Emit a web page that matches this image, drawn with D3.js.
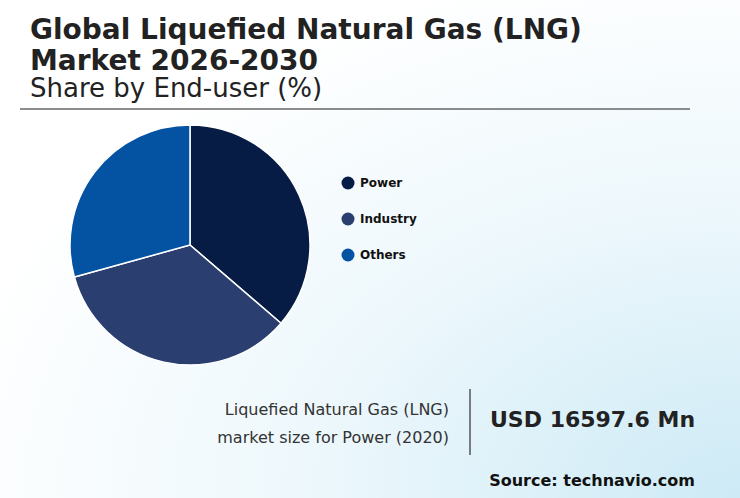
<!DOCTYPE html>
<html><head><meta charset="utf-8">
<script src="https://cdn.jsdelivr.net/npm/d3@7"></script>
<style>body{margin:0}svg{display:block;font-family:"DejaVu Sans",sans-serif}</style>
</head><body><svg id="c" width="740" height="498"></svg>
<script>
const categories=["Power","Industry","Others"];
const values=[36.3,34.4,29.3];
const colors=["#071c44","#2a3f6f","#0453a3"];
const svg=d3.select("#c");
const defs=svg.append("defs");
const g=defs.append("radialGradient").attr("id","bg").attr("cx","100%").attr("cy","100%").attr("r","110%");
g.append("stop").attr("offset","0%").attr("stop-color","#cdeaf6");
g.append("stop").attr("offset","55%").attr("stop-color","#eef8fc");
g.append("stop").attr("offset","100%").attr("stop-color","#ffffff");
svg.append("rect").attr("width",740).attr("height",498).attr("fill","url(#bg)");
const t=svg.append("g").attr("fill","#222");
t.append("text").attr("x",30).attr("y",39).attr("font-size",28).attr("font-weight","bold").text("Global Liquefied Natural Gas (LNG)");
t.append("text").attr("x",30).attr("y",70).attr("font-size",28).attr("font-weight","bold").text("Market 2026-2030");
t.append("text").attr("x",30).attr("y",97).attr("font-size",26).text("Share by End-user (%)");
svg.append("line").attr("x1",20).attr("x2",690).attr("y1",109).attr("y2",109).attr("stroke","#666").attr("stroke-width",1.5);
const pie=d3.pie().sort(null)(values);
const arc=d3.arc().innerRadius(0).outerRadius(120);
svg.append("g").attr("transform","translate(190,245)").selectAll("path").data(pie).join("path")
 .attr("d",arc).attr("fill",(d,i)=>colors[i]).attr("stroke","#fff").attr("stroke-width",1.5);
const lg=svg.append("g").selectAll("g").data(categories).join("g").attr("transform",(d,i)=>`translate(348,${183+i*36})`);
lg.append("circle").attr("r",6.5).attr("fill",(d,i)=>colors[i]);
lg.append("text").attr("x",12).attr("y",4).attr("font-size",12).attr("font-weight","bold").attr("fill","#111").text(d=>d);
svg.append("text").attr("x",449).attr("y",415).attr("text-anchor","end").attr("font-size",16).attr("fill","#333").text("Liquefied Natural Gas (LNG)");
svg.append("text").attr("x",449).attr("y",443).attr("text-anchor","end").attr("font-size",16).attr("fill","#333").text("market size for Power (2020)");
svg.append("line").attr("x1",470).attr("x2",470).attr("y1",389).attr("y2",455).attr("stroke","#555").attr("stroke-width",1.5);
svg.append("text").attr("x",490).attr("y",427).attr("font-size",22).attr("font-weight","bold").attr("fill","#222").text("USD 16597.6 Mn");
svg.append("text").attr("x",695).attr("y",486).attr("text-anchor","end").attr("font-size",16).attr("font-weight","bold").attr("fill","#111").text("Source: technavio.com");
</script></body></html>
